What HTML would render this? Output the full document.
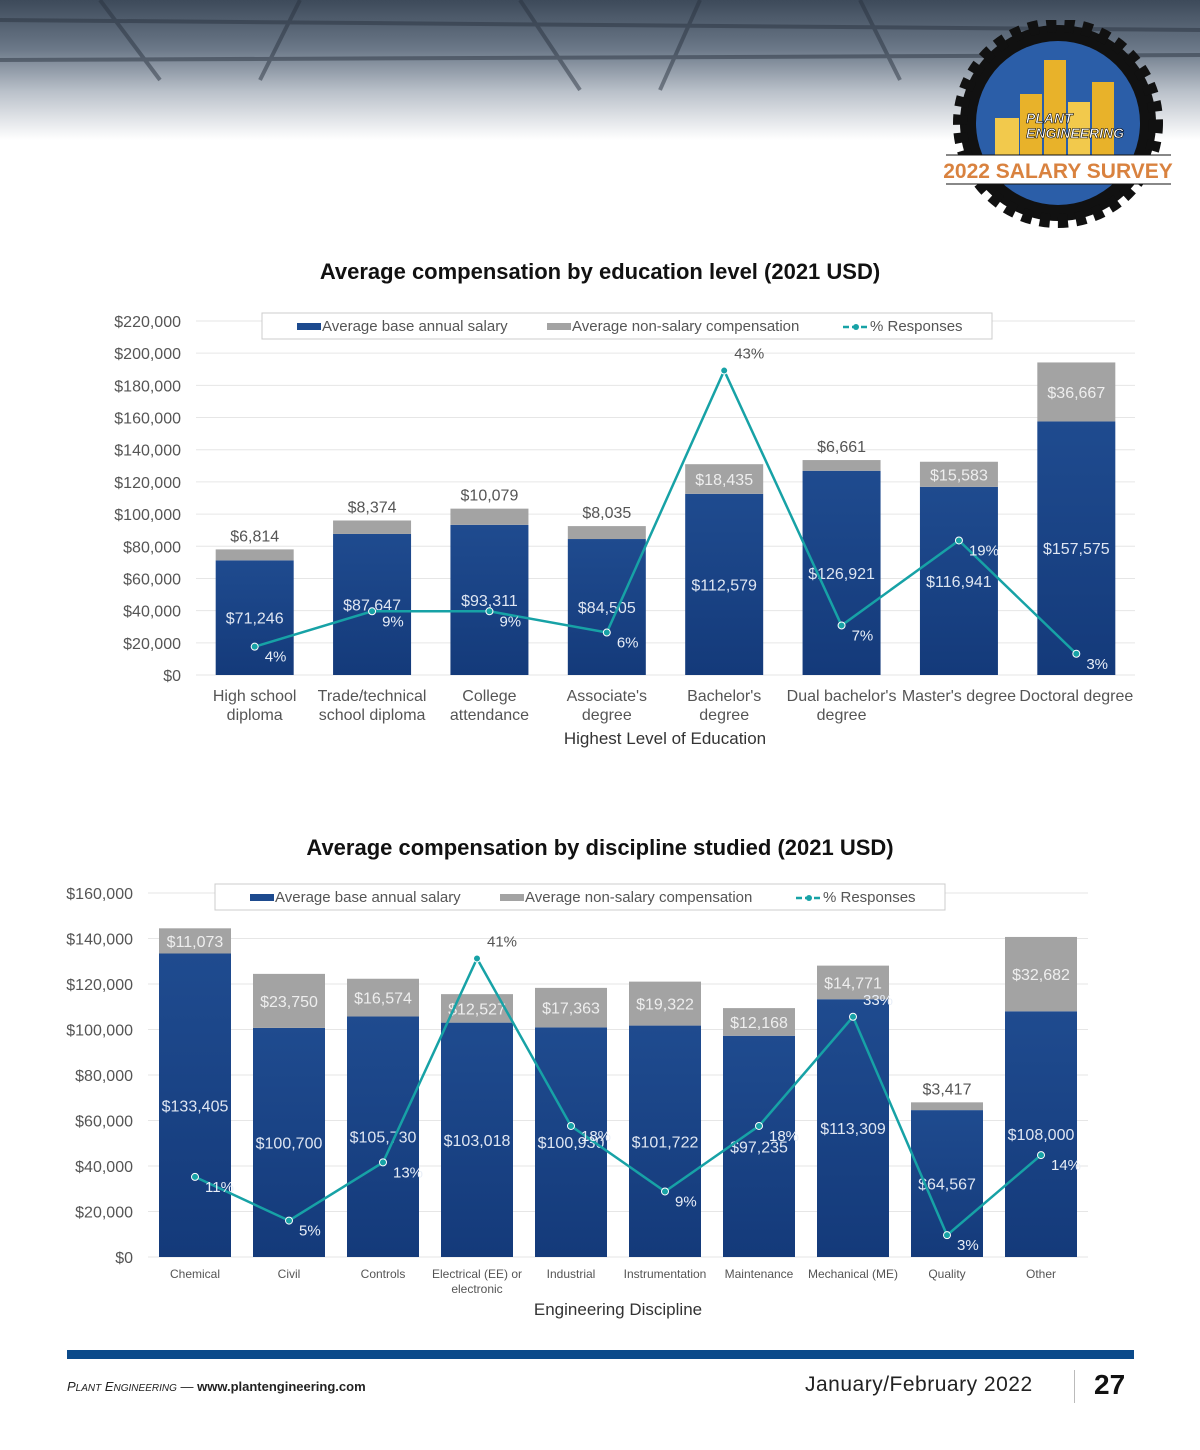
<!DOCTYPE html>
<html><head><meta charset="utf-8">
<style>
body{margin:0;width:1200px;height:1450px;background:#fff;font-family:"Liberation Sans",sans-serif;position:relative;overflow:hidden}
.title{position:absolute;left:0;width:1200px;text-align:center;font-weight:bold;font-size:22px;color:#111}
svg text{font-family:"Liberation Sans",sans-serif}
</style></head><body>
<div style="position:absolute;left:0;top:0;width:1200px;height:140px;background:linear-gradient(#3d4a5a 0%,#6b7888 35%,#b9c0c9 65%,#fff 100%)"></div>
<svg style="position:absolute;left:0;top:0" width="1200" height="110">
<g stroke="#2a3340" stroke-width="4" opacity="0.5">
<line x1="0" y1="20" x2="1200" y2="30"/><line x1="0" y1="60" x2="1200" y2="55"/>
<line x1="100" y1="0" x2="160" y2="80"/><line x1="300" y1="0" x2="260" y2="80"/><line x1="520" y1="0" x2="580" y2="90"/><line x1="700" y1="0" x2="660" y2="90"/><line x1="860" y1="0" x2="900" y2="80"/>
</g></svg>
<svg style="position:absolute;left:940px;top:20px" width="240" height="210">
<circle cx="118" cy="103" r="98" fill="#111" stroke="#111" stroke-width="14" stroke-dasharray="10 8"/>
<circle cx="118" cy="103" r="82" fill="#2b5ea8"/>
<rect x="55" y="98" width="24" height="55" fill="#f2c94c"/><rect x="80" y="74" width="22" height="80" fill="#e8b22a"/><rect x="104" y="40" width="22" height="114" fill="#e8b22a"/><rect x="128" y="82" width="22" height="72" fill="#f2c94c"/><rect x="152" y="62" width="22" height="92" fill="#e8b22a"/>
<text x="86" y="103" font-size="14" font-weight="bold" font-style="italic" fill="#fff" stroke="#000" stroke-width="0.6">PLANT</text>
<text x="86" y="118" font-size="14" font-weight="bold" font-style="italic" fill="#fff" stroke="#000" stroke-width="0.6">ENGINEERING</text>
<rect x="6" y="135" width="225" height="29" fill="#fff"/>
<line x1="6" y1="135" x2="231" y2="135" stroke="#111"/><line x1="6" y1="164" x2="231" y2="164" stroke="#111"/>
<text x="118" y="158" text-anchor="middle" font-size="21" font-weight="bold" fill="#d9823f">2022 SALARY SURVEY</text>
</svg>

<div class="title" style="top:259px">Average compensation by education level (2021 USD)</div>
<div class="title" style="top:835px">Average compensation by discipline studied (2021 USD)</div>
<svg id="c1" style="position:absolute;left:0;top:0" width="1200" height="1450"></svg>

<div style="position:absolute;left:67px;top:1350px;width:1067px;height:9px;background:#0b4a8a"></div>
<div style="position:absolute;left:67px;top:1379px;font-size:13px;color:#222"><i>P<span style="font-size:10px">LANT</span> E<span style="font-size:10px">NGINEERING</span></i> — <b>www.plantengineering.com</b></div>
<div style="position:absolute;left:805px;top:1373px;font-size:21px;color:#222;letter-spacing:0.5px">January/February 2022</div>
<div style="position:absolute;left:1074px;top:1370px;width:1px;height:33px;background:#bbb"></div>
<div style="position:absolute;left:1094px;top:1369px;font-size:28px;font-weight:bold;color:#111">27</div>

<script>
const ns="http://www.w3.org/2000/svg";
const svg=document.getElementById('c1');
// chart 1 data
const c1Cats=[["High school","diploma"],["Trade/technical","school diploma"],["College","attendance"],["Associate's","degree"],["Bachelor's","degree"],["Dual bachelor's","degree"],["Master's degree"],["Doctoral degree"]];
const c1Base=[71246,87647,93311,84505,112579,126921,116941,157575];
const c1Extra=[6814,8374,10079,8035,18435,6661,15583,36667];
const c1Pct=[4,9,9,6,43,7,19,3];
const c1Ticks=[0,20000,40000,60000,80000,100000,120000,140000,160000,180000,200000,220000];
// chart 2 data
const c2Cats=[["Chemical"],["Civil"],["Controls"],["Electrical (EE) or","electronic"],["Industrial"],["Instrumentation"],["Maintenance"],["Mechanical (ME)"],["Quality"],["Other"]];
const c2Base=[133405,100700,105730,103018,100930,101722,97235,113309,64567,108000];
const c2Extra=[11073,23750,16574,12527,17363,19322,12168,14771,3417,32682];
const c2Pct=[11,5,13,41,18,9,18,33,3,14];
const c2Ticks=[0,20000,40000,60000,80000,100000,120000,140000,160000];

function mk(tag,attrs,name,txt){const e=document.createElementNS(ns,tag);for(const k in attrs)e.setAttribute(k,attrs[k]);


if(txt!==undefined)e.textContent=txt;svg.appendChild(e);return e;}
const fmt=v=>'$'+v.toLocaleString('en-US');

function chart(o){
 const y=v=>o.y0-(v/o.ymax)*(o.y0-o.ytop);
 const yp=p=>o.y0-(p/50)*(o.y0-o.ytop);
 const n=o.cats.length, step=(o.right-o.left)/n;
 const cx=i=>o.left+step*(i+0.5);
 o.ticks.forEach(t=>{mk('line',{x1:o.left,x2:o.right,y1:y(t),y2:y(t),stroke:'#e6e6e6'},'gridline');
  mk('text',{x:o.left-15,y:y(t)+6,'text-anchor':'end','font-size':16,fill:'#555'},'y-tick-label',fmt(t));});
 mk('rect',{x:o.legX,y:o.legY,width:o.legW,height:26,fill:'#fff',stroke:'#ccc'},'legend-box');
 const lx=o.legX+35,ly=o.legY+18;
 mk('rect',{x:lx,y:ly-8,width:24,height:7,fill:'#1d4a8e'},'legend-swatch-base');
 mk('text',{x:lx+25,y:ly,'font-size':15,fill:'#555'},'legend-base-label','Average base annual salary');
 mk('rect',{x:lx+250,y:ly-8,width:24,height:7,fill:'#a3a3a3'},'legend-swatch-nonsalary');
 mk('text',{x:lx+275,y:ly,'font-size':15,fill:'#555'},'legend-nonsalary-label','Average non-salary compensation');
 mk('line',{x1:lx+546,x2:lx+572,y1:ly-4,y2:ly-4,stroke:'#17a2a6','stroke-width':2.5,'stroke-dasharray':'6 3'},'legend-line-swatch');
 mk('circle',{cx:lx+559,cy:ly-4,r:3,fill:'#17a2a6'},'legend-line-marker');
 mk('text',{x:lx+573,y:ly,'font-size':15,fill:'#555'},'legend-responses-label','% Responses');
 const bw=o.bw;
 o.base.forEach((b,i)=>{
  const x=cx(i)-bw/2, e=o.extra[i];
  mk('rect',{x,y:y(b),width:bw,height:o.y0-y(b),fill:'url(#grad)'},'bar-base-'+i);
  mk('rect',{x,y:y(b+e),width:bw,height:y(b)-y(b+e),fill:'#a3a3a3'},'bar-nonsalary-'+i);
  mk('text',{x:cx(i),y:(y(b)+o.y0)/2+6,'text-anchor':'middle','font-size':16,fill:'#dfe6f2'},'base-value-label',fmt(b));
  if(y(b)-y(b+e)>20) mk('text',{x:cx(i),y:(y(b)+y(b+e))/2+6,'text-anchor':'middle','font-size':16,fill:'#eee'},'nonsalary-value-label',fmt(e));
  else mk('text',{x:cx(i),y:y(b+e)-8,'text-anchor':'middle','font-size':16,fill:'#555'},'nonsalary-value-label',fmt(e));
  o.cats[i].forEach((l,k)=>mk('text',{x:cx(i),y:o.y0+o.catDy+k*o.catLh,'text-anchor':'middle','font-size':o.catFs,fill:'#555'},'category-label',l));
 });
 const pts=o.pct.map((p,i)=>cx(i)+','+yp(p)).join(' ');
 mk('polyline',{points:pts,fill:'none',stroke:'#17a2a6','stroke-width':2.5},'responses-line');
 o.pct.forEach((p,i)=>{mk('circle',{cx:cx(i),cy:yp(p),r:3.5,fill:'#17a2a6',stroke:'#fff'},'responses-point');
  const inside=yp(p)>y(o.base[i]+o.extra[i]);
  mk('text',{x:cx(i)+10,y:yp(p)+(p>30?-12:15),'font-size':15,fill:inside?'#e8eef7':'#555'},'responses-label',p+'%');});
 mk('text',{x:o.xtX,y:o.xtY,'text-anchor':'middle','font-size':17,fill:'#333'},'x-axis-title',o.xt);
}
const defs=document.createElementNS(ns,'defs');
defs.innerHTML='<linearGradient id="grad" x1="0" y1="0" x2="0" y2="1"><stop offset="0" stop-color="#1f4b8f"/><stop offset="1" stop-color="#143a7a"/></linearGradient>';
svg.appendChild(defs);
chart({cats:c1Cats,base:c1Base,extra:c1Extra,pct:c1Pct,ticks:c1Ticks,ymax:220000,y0:675,ytop:321,left:196,right:1135,bw:78,
 legX:262,legY:313,legW:730,catDy:26,catLh:19,catFs:16,xt:'Highest Level of Education',xtX:665,xtY:744});
chart({cats:c2Cats,base:c2Base,extra:c2Extra,pct:c2Pct,ticks:c2Ticks,ymax:160000,y0:1257,ytop:893,left:148,right:1088,bw:72,
 legX:215,legY:884,legW:730,catDy:21,catLh:15,catFs:12,xt:'Engineering Discipline',xtX:618,xtY:1315});
</script>
</body></html>
